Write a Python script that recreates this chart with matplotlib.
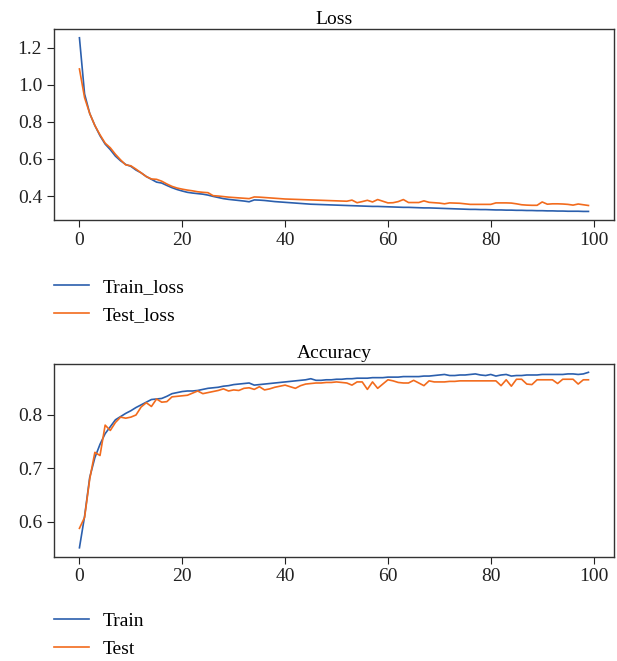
import matplotlib

matplotlib.use("Agg")
import matplotlib.pyplot as plt
import numpy as np

epochs = np.arange(100)

train_loss = [
    1.253, 0.95, 0.845, 0.78, 0.725, 0.68, 0.65, 0.615, 0.59, 0.57,
    0.56, 0.54, 0.525, 0.505, 0.49, 0.475, 0.47, 0.457, 0.445, 0.435,
    0.427, 0.42, 0.416, 0.413, 0.41, 0.405, 0.398, 0.392, 0.386, 0.382,
    0.379, 0.376, 0.373, 0.369, 0.379, 0.378, 0.376, 0.373, 0.37, 0.368,
    0.366, 0.364, 0.362, 0.36, 0.358, 0.356, 0.355, 0.354, 0.353, 0.352,
    0.351, 0.35, 0.349, 0.348, 0.347, 0.346, 0.345, 0.344, 0.344, 0.343,
    0.342, 0.341, 0.34, 0.339, 0.339, 0.338, 0.337, 0.336, 0.336, 0.335,
    0.334, 0.333, 0.332, 0.331, 0.33, 0.329, 0.328, 0.328, 0.327, 0.327,
    0.326, 0.325, 0.325, 0.324, 0.324, 0.323, 0.323, 0.322, 0.322, 0.321,
    0.321, 0.32, 0.32, 0.319, 0.319, 0.318, 0.318, 0.318, 0.317, 0.317,
]
test_loss = [
    1.085, 0.93, 0.845, 0.78, 0.73, 0.685, 0.66, 0.625, 0.595, 0.568,
    0.563, 0.545, 0.525, 0.505, 0.492, 0.49, 0.48, 0.465, 0.452, 0.443,
    0.437, 0.432, 0.428, 0.423, 0.42, 0.418, 0.402, 0.4, 0.397, 0.394,
    0.392, 0.39, 0.388, 0.386, 0.395, 0.394, 0.392, 0.39, 0.388, 0.386,
    0.384, 0.383, 0.382, 0.381, 0.38, 0.379, 0.378, 0.377, 0.376, 0.375,
    0.374, 0.373, 0.372, 0.378, 0.364, 0.37, 0.377, 0.368, 0.381, 0.372,
    0.363, 0.364, 0.37, 0.381, 0.365, 0.365, 0.365, 0.374, 0.366, 0.364,
    0.362, 0.358, 0.363, 0.362, 0.361, 0.358, 0.355, 0.355, 0.355, 0.355,
    0.355, 0.363, 0.363, 0.363, 0.362, 0.358, 0.353, 0.351, 0.35, 0.35,
    0.368, 0.356, 0.358, 0.358, 0.357, 0.355, 0.351, 0.357, 0.353, 0.349,
]

train_acc = [
    0.551, 0.61, 0.683, 0.72, 0.745, 0.765, 0.778, 0.791, 0.797, 0.803,
    0.808, 0.814, 0.819, 0.824, 0.829, 0.83, 0.831, 0.835, 0.84, 0.842,
    0.844, 0.845, 0.845, 0.846, 0.848, 0.85, 0.851, 0.852, 0.854, 0.855,
    0.857, 0.858, 0.859, 0.86, 0.856, 0.857, 0.858, 0.859, 0.86, 0.861,
    0.862, 0.863, 0.864, 0.865, 0.866, 0.868, 0.865, 0.865, 0.866, 0.866,
    0.867, 0.867, 0.868, 0.868, 0.869, 0.869, 0.869, 0.87, 0.87, 0.87,
    0.871, 0.871, 0.871, 0.872, 0.872, 0.872, 0.872, 0.873, 0.873, 0.874,
    0.875, 0.876, 0.874, 0.874, 0.875, 0.875, 0.876, 0.877, 0.875, 0.874,
    0.876, 0.873, 0.875, 0.876, 0.873, 0.874, 0.874, 0.875, 0.875, 0.875,
    0.876, 0.876, 0.876, 0.876, 0.876, 0.877, 0.877, 0.876, 0.877, 0.88,
]
test_acc = [
    0.5875, 0.608, 0.68, 0.73, 0.724, 0.781, 0.771, 0.786, 0.796, 0.794,
    0.796, 0.8, 0.815, 0.823, 0.816, 0.83, 0.824, 0.825, 0.834, 0.835,
    0.836, 0.837, 0.841, 0.845, 0.84, 0.842, 0.844, 0.846, 0.849, 0.845,
    0.847, 0.846, 0.85, 0.851, 0.848, 0.853, 0.847, 0.849, 0.852, 0.854,
    0.856, 0.853, 0.85, 0.855, 0.858, 0.859, 0.86, 0.86, 0.861, 0.861,
    0.862, 0.861, 0.86, 0.856, 0.862, 0.862, 0.848, 0.862, 0.85, 0.858,
    0.866, 0.864, 0.861, 0.86, 0.86, 0.865, 0.86, 0.855, 0.864, 0.862,
    0.862, 0.862, 0.863, 0.863, 0.864, 0.864, 0.864, 0.864, 0.864, 0.864,
    0.864, 0.864, 0.855, 0.866, 0.854, 0.867, 0.867, 0.858, 0.857, 0.866,
    0.866, 0.866, 0.866, 0.859, 0.867, 0.867, 0.867, 0.858, 0.866, 0.866,
]

BLUE = "#2b5fad"
ORANGE = "#f26b1d"

plt.rcParams.update(
    {
        "font.family": ["Liberation Serif", "DejaVu Serif"],
        "font.size": 14,
        "axes.titlesize": 14,
        "axes.edgecolor": "#333333",
        "axes.linewidth": 1.0,
        "xtick.major.size": 5,
        "ytick.major.size": 5,
        "xtick.color": "#222222",
        "ytick.color": "#222222",
    }
)

fig = plt.figure(figsize=(6.17, 6.61), dpi=100)
ax1 = fig.add_axes([0.0875, 0.667, 0.9075, 0.289])
ax2 = fig.add_axes([0.0875, 0.158, 0.9075, 0.292])

legend_style = dict(
    loc="upper left",
    bbox_transform=fig.transFigure,
    frameon=False,
    borderpad=0,
    borderaxespad=0,
    handlelength=1.8,
    handletextpad=0.72,
    labelspacing=0.55,
)

ax1.plot(epochs, train_loss, color=BLUE, linewidth=1.2, label="Train_loss")
ax1.plot(epochs, test_loss, color=ORANGE, linewidth=1.2, label="Test_loss")
ax1.set_title("Loss", pad=4)
ax1.set_xticks([0, 20, 40, 60, 80, 100])
ax1.set_yticks([0.4, 0.6, 0.8, 1.0, 1.2])
ax1.legend(bbox_to_anchor=(0.0875, 0.579), **legend_style)

ax2.plot(epochs, train_acc, color=BLUE, linewidth=1.2, label="Train")
ax2.plot(epochs, test_acc, color=ORANGE, linewidth=1.2, label="Test")
ax2.set_title("Accuracy", pad=4)
ax2.set_xticks([0, 20, 40, 60, 80, 100])
ax2.set_yticks([0.6, 0.7, 0.8])
ax2.legend(bbox_to_anchor=(0.0875, 0.074), **legend_style)

fig.savefig("out.png", dpi=100)
